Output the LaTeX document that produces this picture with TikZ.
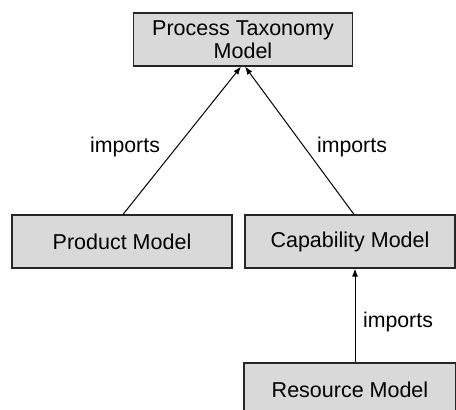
\documentclass[tikz,border=0pt]{standalone}
\usepackage{fontspec}
\setmainfont{Liberation Sans}
\usetikzlibrary{arrows.meta}
\begin{document}
\begin{tikzpicture}[x=1pt,y=1pt,
  model/.style={draw=black!85, line width=1.2pt, fill=black!15, minimum height=53pt,
    inner sep=0pt, align=center, font=\fontsize{21.5}{23}\selectfont},
  link/.style={draw=black, line width=1pt, -{Latex[length=8pt,width=6pt]}},
  lbl/.style={font=\fontsize{21.3}{24}\selectfont}]
\useasboundingbox (0,0) rectangle (456,-410);
\clip (0,0) rectangle (456,-410);
\node[model, minimum width=219pt] (pt) at (243,-39.5) {Process Taxonomy\\Model};
\node[model, minimum width=220pt] (prod) at (122,-241.5) {Product Model};
\node[model, minimum width=210pt] (cap) at (350,-241.5) {Capability Model};
\node[model, minimum width=212pt] (res) at (350,-389.5) {Resource Model};
\draw[link] ([xshift=1pt]prod.north) -- ([xshift=-2pt]pt.south);
\draw[link] ([xshift=4pt]cap.north) -- ([xshift=2pt]pt.south);
\draw[link] ([xshift=5pt]res.north) -- ([xshift=5pt]cap.south);
\node[lbl] (l1) at (125,-147) {imports};
\node[lbl] (l2) at (352,-147) {imports};
\node[lbl] (l3) at (398,-322) {imports};
\end{tikzpicture}
\end{document}
